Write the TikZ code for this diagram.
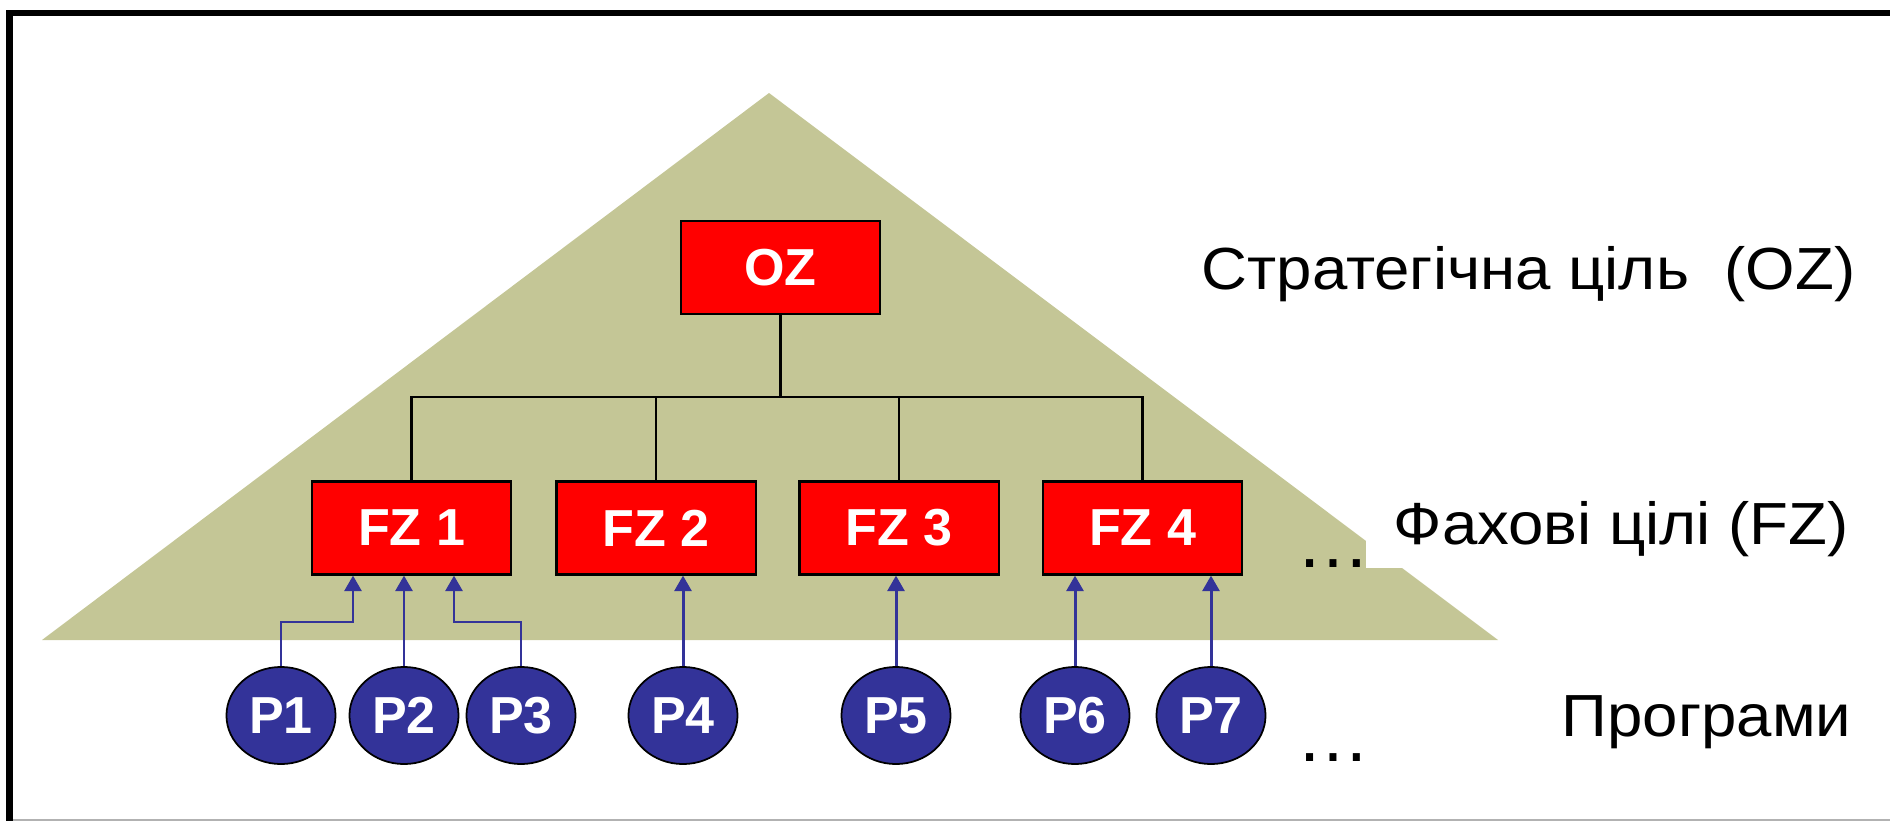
\documentclass[tikz,border=0pt]{standalone}
\usepackage{fontspec}
\setmainfont{Liberation Sans}
\newfontfamily\levelfont[FakeStretch=1.07]{Liberation Sans}
\usetikzlibrary{shapes.geometric,arrows.meta,calc}
\definecolor{pyramidfill}{RGB}{196,198,150}
\definecolor{progblue}{RGB}{51,51,153}
\definecolor{goalred}{RGB}{255,0,0}
\begin{document}
\begin{tikzpicture}[x=0.01cm,y=-0.01cm,
  goal/.style={draw=black, line width=0.6pt, fill=goalred, text=white,
    font=\fontsize{14.8}{17}\selectfont\bfseries,
    minimum width=1.99cm, minimum height=0.93cm, inner sep=0pt},
  prog/.style={ellipse, draw=black, line width=0.5pt, fill=progblue, text=white,
    font=\fontsize{14.8}{17}\selectfont\bfseries,
    minimum width=1.09cm, minimum height=0.97cm, inner sep=0pt},
  link/.style={draw=black, line width=0.6pt},
  feed/.style={draw=progblue, line width=0.85pt, -{Triangle[width=4.8pt,length=4.4pt]}},
  levellabel/.style={font=\levelfont\fontsize{16.9}{20}\selectfont, anchor=base west, inner sep=0pt},
  more/.style={font=\fontsize{21}{24}\selectfont, anchor=base, inner sep=0pt}]
\useasboundingbox (0,0) rectangle (1890,821);

% frame
\draw[line width=1.9pt] (9.5,821) -- (9.5,13) -- (1890,13);
\draw[black!30, line width=0.4pt] (13,820) -- (1890,820);

% pyramid
\fill[pyramidfill] (769,93) -- (42,640) -- (1498,640) -- cycle;
\fill[white] (1366,568) rectangle (1700,470);

% level labels
\node[levellabel] (lOZ) at (1201,289) {Стратегічна ціль\ \ (OZ)};
\node[levellabel] (lFZ) at (1393,544) {Фахові цілі (FZ)};
\node[levellabel] (lP)  at (1561,736) {Програми};
\node[more] (moreFZ) at (1333,567) {…};
\node[more] (moreP)  at (1333,761) {…};

% goals
\node[goal] (oz)  at (780.5,267.5) {OZ};
\node[goal] (fz1) at (411.5,528) {FZ 1};
\node[goal] (fz2) at (656,528) {FZ 2};
\node[goal] (fz3) at (899,528) {FZ 3};
\node[goal] (fz4) at (1142.5,528) {FZ 4};

% tree links
\coordinate (bus) at (780.5,397);
\draw[link] (oz.south) -- (bus);
\draw[link] (fz1.north) -- (fz1.north |- bus) -- (fz4.north |- bus) -- (fz4.north);
\draw[link] (fz2.north) -- (fz2.north |- bus);
\draw[link] (fz3.north) -- (fz3.north |- bus);

% programmes
\node[prog] (p1) at (281,715.5) {P1};
\node[prog] (p2) at (404,715.5) {P2};
\node[prog] (p3) at (521,715.5) {P3};
\node[prog] (p4) at (683,715.5) {P4};
\node[prog] (p5) at (896,715.5) {P5};
\node[prog] (p6) at (1075,715.5) {P6};
\node[prog] (p7) at (1211,715.5) {P7};

% contributions of programmes
\coordinate (a1) at ($(fz1.south)+(-58.5,0)$);
\coordinate (a3) at ($(fz1.south)+(42.5,0)$);
\draw[feed] (p1.north) -- (p1.north |- 0,622) -| (a1);
\draw[feed] (p2.north) -- (p2.north |- fz1.south);
\draw[feed] (p3.north) -- (p3.north |- 0,622) -| (a3);
\draw[feed] (p4.north) -- (p4.north |- fz2.south);
\draw[feed] (p5.north) -- (p5.north |- fz3.south);
\draw[feed] (p6.north) -- (p6.north |- fz4.south);
\draw[feed] (p7.north) -- (p7.north |- fz4.south);
\end{tikzpicture}
\end{document}
